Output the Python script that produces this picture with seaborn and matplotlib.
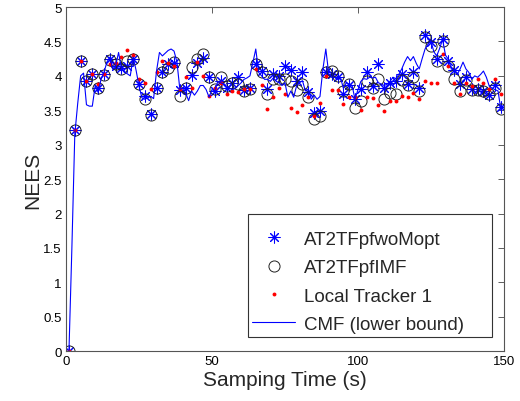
import matplotlib
matplotlib.use("Agg")
import matplotlib.pyplot as plt
import numpy as np
import pandas as pd
import seaborn as sns

# CMF (lower bound) line, every second
t_line = list(range(1, 150))
cmf = [0.0, 1.5, 3.15, 3.6, 4.0, 4.04, 3.58, 3.56, 3.56, 3.86,
       3.76, 3.95, 4.05, 4.2, 4.27, 4.1, 4.15, 4.34, 4.1, 4.05,
       4.03, 4.0, 4.27, 4.08, 3.85, 3.68, 3.66, 3.68, 3.7, 3.67,
       4.07, 4.34, 4.29, 4.33, 4.37, 4.39, 4.36, 4.2, 3.8, 3.83,
       3.75, 3.64, 3.78, 3.72, 3.78, 3.86, 3.86, 3.8, 3.69, 3.8,
       3.78, 3.92, 3.9, 3.88, 3.85, 3.82, 3.8, 3.82, 3.86, 3.9,
       3.95, 3.97, 4.0, 4.19, 4.39, 4.05, 4.0, 3.95, 3.95, 3.92,
       3.97, 3.92, 3.9, 3.86, 3.9, 3.69, 3.78, 3.69, 3.86, 3.9,
       3.93, 3.78, 3.81, 3.66, 3.72, 3.66, 3.7, 4.1, 4.39, 4.03,
       3.98, 3.98, 3.95, 3.98, 3.82, 3.9, 3.88, 3.86, 3.66, 3.8,
       3.92, 3.96, 3.95, 3.98, 3.97, 3.98, 3.9, 3.88, 3.86, 3.88,
       3.92, 3.98, 3.96, 4.02, 4.1, 4.2, 4.28, 4.22, 4.28, 4.18,
       4.1, 4.25, 4.39, 4.46, 4.51, 4.35, 4.29, 4.4, 4.53, 4.3,
       4.24, 4.1, 4.08, 4.02, 4.1, 4.2, 4.1, 4.05, 3.95, 4.0,
       3.98, 4.02, 4.07, 3.98, 3.85, 3.82, 3.8, 3.78, 3.5]

# marker series, every two seconds
t_mark = list(range(1, 150, 2))
wo_mopt = [0.0, 3.22, 4.22, 3.93, 4.02, 3.83, 4.02, 4.24, 4.15, 4.12,
           4.15, 4.24, 3.88, 3.71, 3.44, 3.83, 4.06, 4.17, 4.19, 3.79,
           3.83, 4.01, 4.19, 4.26, 3.98, 3.78, 3.93, 3.83, 3.9, 3.98,
           3.8, 3.82, 4.17, 4.07, 3.81, 4.02, 4.0, 4.14, 4.09, 3.93,
           4.05, 3.77, 3.46, 3.49, 4.05, 4.02, 3.98, 3.74, 3.86, 3.66,
           3.81, 4.05, 3.85, 4.17, 3.83, 3.9, 3.93, 4.02, 3.88, 4.05,
           3.83, 4.6, 4.49, 4.25, 4.53, 4.22, 4.08, 3.88, 3.98, 3.81,
           3.81, 3.78, 3.72, 3.86, 3.55]
imf = [0.0, 3.22, 4.22, 3.93, 4.02, 3.82, 4.01, 4.23, 4.17, 4.1,
       4.22, 4.24, 3.88, 3.67, 3.43, 3.83, 4.05, 4.12, 4.2, 3.71,
       3.83, 4.13, 4.24, 4.32, 3.98, 3.81, 3.98, 3.85, 3.9, 3.88,
       3.78, 3.81, 4.17, 4.05, 3.74, 3.95, 3.96, 3.95, 3.93, 3.8,
       3.88, 3.69, 3.38, 3.42, 4.05, 4.07, 4.0, 3.78, 3.88, 3.54,
       3.64, 3.93, 3.83, 3.95, 3.66, 3.75, 3.74, 3.94, 3.86, 3.98,
       3.78, 4.56, 4.44, 4.22, 4.51, 4.14, 3.95, 3.78, 3.94, 3.8,
       3.8, 3.78, 3.74, 3.83, 3.52]
local1 = [0.0, 3.22, 4.22, 3.93, 4.02, 3.88, 4.02, 4.17, 4.18, 4.28,
          4.38, 4.3, 3.95, 3.9, 3.81, 4.06, 4.22, 4.19, 4.15, 3.81,
          3.98, 3.83, 4.2, 4.0, 3.71, 3.82, 3.9, 3.74, 3.78, 3.76,
          3.81, 3.81, 4.1, 3.86, 3.52, 3.69, 3.82, 3.74, 3.54, 3.48,
          3.57, 3.7, 3.41, 3.61, 4.0, 3.8, 3.8, 3.59, 3.69, 3.7,
          3.51, 3.7, 3.68, 3.57, 3.49, 3.64, 3.64, 3.71, 3.7, 3.75,
          3.66, 3.93, 3.9, 3.89, 4.32, 4.14, 3.9, 3.74, 3.9, 3.85,
          3.95, 3.9, 3.81, 3.95, 3.74]

labels = ["AT2TFpfwoMopt", "AT2TFpfIMF", "Local Tracker 1", "CMF (lower bound)"]
x_ticks = [0, 50, 100, 150]
y_ticks = [0, 0.5, 1, 1.5, 2, 2.5, 3, 3.5, 4, 4.5, 5]

sns.set_theme(style="white")
plt.rcParams["font.family"] = ["Liberation Sans", "DejaVu Sans"]

marks = pd.DataFrame({"t": t_mark, "wo": wo_mopt, "imf": imf, "loc": local1})
line = pd.DataFrame({"t": t_line, "cmf": cmf})

fig = plt.figure(figsize=(5.2, 4.02), dpi=100)
ax = fig.add_axes([0.127, 0.124, 0.842, 0.856])

sns.lineplot(data=marks, x="t", y="wo", ax=ax, linestyle="", marker=(8, 2, 0),
             markersize=8.5, markeredgewidth=0.75, color="#0000ff",
             markeredgecolor="#0000ff", label=labels[0])
sns.lineplot(data=marks, x="t", y="imf", ax=ax, linestyle="", marker="o",
             markersize=8, markerfacecolor="none", markeredgewidth=0.7,
             color="#222222", markeredgecolor="#222222", label=labels[1])
sns.lineplot(data=marks, x="t", y="loc", ax=ax, linestyle="", marker="o",
             markersize=2.8, markeredgewidth=0, color="#ff0000",
             markerfacecolor="#ff0000", label=labels[2])
sns.lineplot(data=line, x="t", y="cmf", ax=ax, color="#0000ff", linewidth=0.8,
             label=labels[3])

ax.set_xlim(0, 150)
ax.set_ylim(0, 5)
ax.set_xticks(x_ticks)
ax.set_yticks(y_ticks)
ax.set_yticklabels(["0", "0.5", "1", "1.5", "2", "2.5", "3", "3.5", "4", "4.5", "5"])
ax.tick_params(direction="in", length=4, width=0.6, labelsize=9.5, colors="#444444",
               labelcolor="black", top=True, right=True, pad=3)
for s in ax.spines.values():
    s.set_visible(True)
    s.set_color("#555555")
    s.set_linewidth(0.8)

ax.set_xlabel("Samping Time (s)", fontsize=15, labelpad=2)
ax.set_ylabel("NEES", fontsize=15, labelpad=1)

# fixed-width box like the MATLAB legend, lower right
leg = ax.legend(loc="lower left", bbox_to_anchor=(0.4155, 0.0407, 0.557, 0.3),
                mode="expand", borderaxespad=0, fontsize=13.5,
                title=" ", title_fontsize=1.5,
                frameon=True, fancybox=False, framealpha=1, edgecolor="#333333",
                handlelength=2.3, labelspacing=0.6, borderpad=0.22,
                handletextpad=0.45)
leg.get_frame().set_linewidth(0.8)

fig.savefig("out.png", dpi=100)
